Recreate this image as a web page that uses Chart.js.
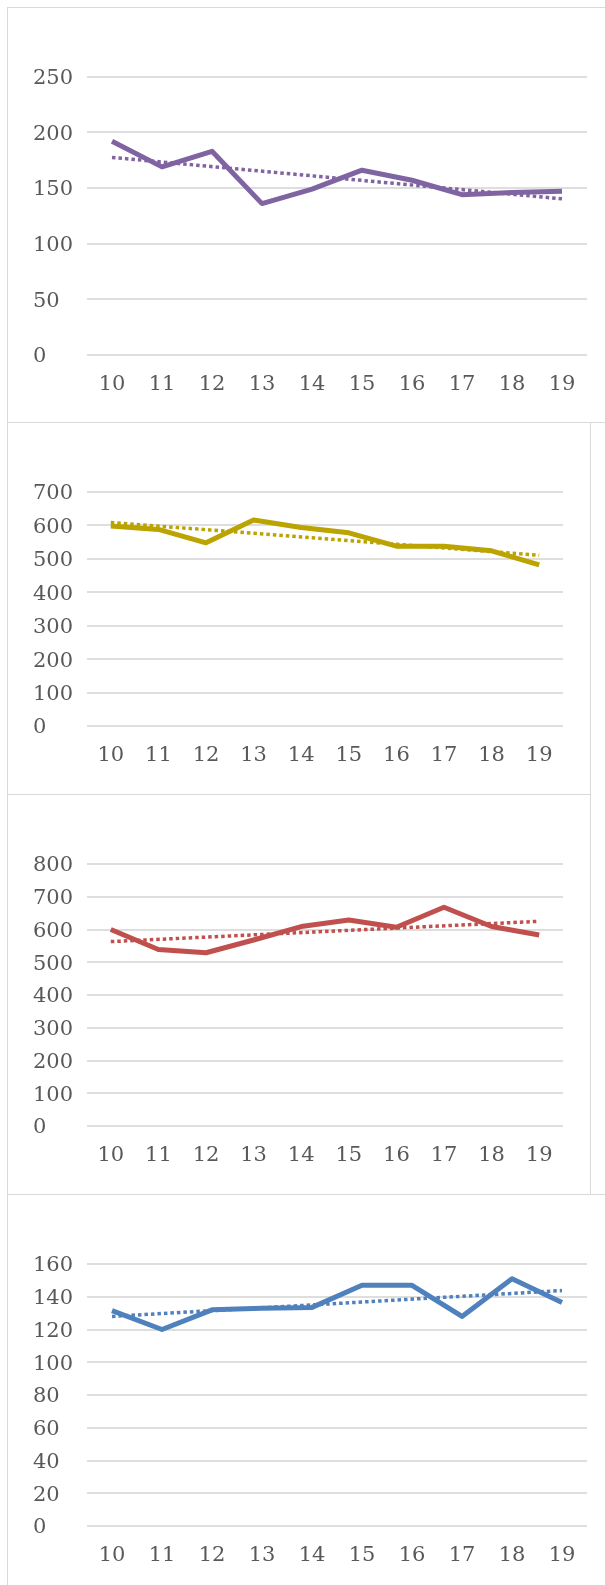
<!DOCTYPE html>
<html>
<head>
<meta charset="utf-8">
<script src="https://cdn.jsdelivr.net/npm/chart.js@4.4.1/dist/chart.umd.min.js"></script>
<style>
  body { margin: 0; width: 605px; height: 1585px; position: relative; overflow: hidden; background: #fff; }
  .frame { position: absolute; border: 1px solid #d9d9d9; box-sizing: border-box; }
  canvas { position: absolute; left: 0; }
</style>
</head>
<body>
<div class="frame" style="left:7px;top:7px;width:610px;height:416px"></div>
<div class="frame" style="left:7px;top:422px;width:584px;height:373px"></div>
<div class="frame" style="left:7px;top:794px;width:584px;height:401px"></div>
<div class="frame" style="left:7px;top:1194px;width:610px;height:500px"></div>
<canvas id="c1"></canvas>
<canvas id="c2"></canvas>
<canvas id="c3"></canvas>
<canvas id="c4"></canvas>
<script>
// x categories shared by every panel
const years = ['10', '11', '12', '13', '14', '15', '16', '17', '18', '19'];

// series values
const purpleValues = [192, 169, 183, 136, 149, 166, 157, 144, 146, 147];
const goldValues = [598, 588, 548, 616, 594, 578, 538, 538, 524, 482];
const redValues = [600, 539, 529, 568, 609, 629, 607, 668, 609, 583];
const blueValues = [131.5, 120, 132, 133, 133.5, 147, 147, 128, 151, 136.5];

// dotted trend lines: only the two ends are read, the rest is spanned
const purpleTrend = [177.5, null, null, null, null, null, null, null, null, 140.3];
const goldTrend = [609, null, null, null, null, null, null, null, null, 511];
const redTrend = [563, null, null, null, null, null, null, null, null, 625];
const blueTrend = [128, null, null, null, null, null, null, null, null, 143.8];

// y axis ranges
const yMaxes = [250, 700, 800, 160];
const ySteps = [50, 100, 100, 20];

const labelFont = { family: 'DejaVu Serif', size: 21 };
const labelColor = '#595959';
const xAxisH = 40;

function makeChart(id, values, trend, color, yMax, yStep, box) {
    const canvas = document.getElementById(id);
    canvas.width = 605;
    canvas.height = box.height;
    canvas.style.top = box.top + 'px';
    canvas.style.width = '605px';
    canvas.style.height = box.height + 'px';

    const padTop = box.plotTop - box.top;
    const padBottom = box.height - (box.plotBottom - box.top) - xAxisH;

    return new Chart(canvas.getContext('2d'), {
        type: 'line',
        data: {
            labels: years,
            datasets: [{
                data: trend,
                borderColor: color,
                borderWidth: 3.5,
                borderDash: [3.5, 3],
                borderCapStyle: 'butt',
                pointRadius: 0,
                spanGaps: true,
                fill: false
            }, {
                data: values,
                borderColor: color,
                borderWidth: 5,
                borderJoinStyle: 'round',
                pointRadius: 0,
                tension: 0,
                fill: false
            }]
        },
        options: {
            responsive: false,
            animation: false,
            devicePixelRatio: 1,
            layout: {
                padding: { left: box.labelX, right: 605 - box.plotRight, top: padTop, bottom: padBottom }
            },
            scales: {
                x: {
                    offset: true,
                    grid: { display: false },
                    border: { display: false },
                    ticks: { font: labelFont, color: labelColor, padding: 9, maxRotation: 0 },
                    afterFit: (scale) => { scale.height = xAxisH; }
                },
                y: {
                    min: 0,
                    max: yMax,
                    grid: { color: '#dedede', lineWidth: 2, drawTicks: false },
                    border: { display: false },
                    ticks: { stepSize: yStep, font: labelFont, color: labelColor, crossAlign: 'far', padding: 0, labelOffset: 2 },
                    afterFit: (scale) => { scale.width = box.plotLeft - box.labelX; }
                }
            },
            plugins: {
                legend: { display: false },
                tooltip: { enabled: false }
            }
        }
    });
}

makeChart('c1', purpleValues, purpleTrend, '#8064A2', yMaxes[0], ySteps[0],
    { top: 7, height: 415, plotLeft: 87, plotRight: 587, plotTop: 76.7, plotBottom: 355, labelX: 33 });
makeChart('c2', goldValues, goldTrend, '#BBA300', yMaxes[1], ySteps[1],
    { top: 422, height: 372, plotLeft: 87, plotRight: 563, plotTop: 492, plotBottom: 726, labelX: 33 });
makeChart('c3', redValues, redTrend, '#C0504D', yMaxes[2], ySteps[2],
    { top: 794, height: 400, plotLeft: 87, plotRight: 563, plotTop: 864, plotBottom: 1126, labelX: 33 });
makeChart('c4', blueValues, blueTrend, '#4F81BD', yMaxes[3], ySteps[3],
    { top: 1194, height: 391, plotLeft: 87, plotRight: 587, plotTop: 1264, plotBottom: 1526, labelX: 33 });
</script>
</body>
</html>
